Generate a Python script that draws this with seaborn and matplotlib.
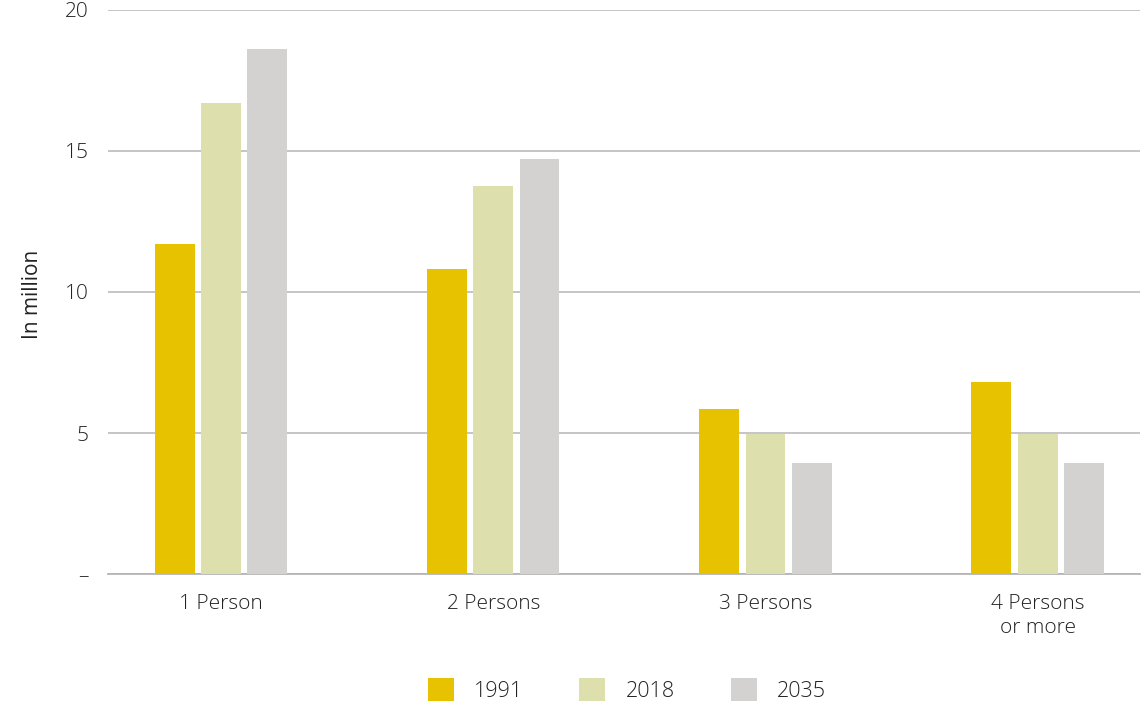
import matplotlib
matplotlib.use("Agg")
import matplotlib.pyplot as plt
import seaborn as sns
import pandas as pd
from matplotlib.patches import Patch

# Household sizes and households (in million) per year
categories = ["1 Person", "2 Persons", "3 Persons", "4 Persons\nor more"]
years = ["1991", "2018", "2035"]
values_1991 = [11.7, 10.8, 5.85, 6.8]
values_2018 = [16.7, 13.75, 4.95, 4.95]
values_2035 = [18.6, 14.7, 3.95, 3.95]
colors = ["#E6C200", "#DDE0AC", "#D3D2D0"]
y_ticks = [0, 5, 10, 15, 20]
y_tick_labels = ["–", "5", "10", "15", "20"]

rows = []
for year, vals in zip(years, [values_1991, values_2018, values_2035]):
    for cat, v in zip(categories, vals):
        rows.append({"size": cat, "year": year, "value": v})
df = pd.DataFrame(rows)

sns.set_theme(style="white")
plt.rcParams["font.family"] = ["Open Sans", "DejaVu Sans"]
plt.rcParams["font.weight"] = "light"

text_color = "#222222"
fs = 15

fig = plt.figure(figsize=(11.42, 7.07), dpi=100)
ax = fig.add_axes([0.0946, 0.188, 0.9034, 0.798])

sns.barplot(data=df, x="size", y="value", hue="year", order=categories,
            hue_order=years, palette=colors, width=0.51, gap=0.14,
            saturation=1, linewidth=0, legend=False, ax=ax, zorder=3)

ax.set_ylim(0, 20)
ax.set_xlim(-0.415, 3.375)
ax.set_yticks(y_ticks)
ax.set_yticklabels(y_tick_labels, fontsize=fs, color=text_color)
ax.tick_params(axis="y", length=0, pad=14)
ax.tick_params(axis="x", length=0, pad=14, labelsize=fs, labelcolor=text_color)
for lbl in ax.get_xticklabels():
    lbl.set_linespacing(1.3)
ax.yaxis.grid(True, color="#B5B5B5", linewidth=1.1, zorder=0)
ax.set_axisbelow(True)
for s in ["top", "right", "left"]:
    ax.spines[s].set_visible(False)
ax.spines["bottom"].set_color("#B5B5B5")
ax.spines["bottom"].set_linewidth(1.3)
ax.set_xlabel("")
ax.set_ylabel("In million", fontsize=fs, color=text_color)
ax.yaxis.set_label_coords(-0.063, 0.495)

handles = [Patch(facecolor=c, edgecolor="none") for c in colors]
fig.legend(handles, years, loc="lower center", bbox_to_anchor=(0.549, -0.02),
           ncol=3, frameon=False, fontsize=fs + 0.5, handlelength=1.2,
           handleheight=1.2, handletextpad=0.95, columnspacing=2.6,
           labelcolor=text_color)

fig.savefig("out.png", dpi=100)
